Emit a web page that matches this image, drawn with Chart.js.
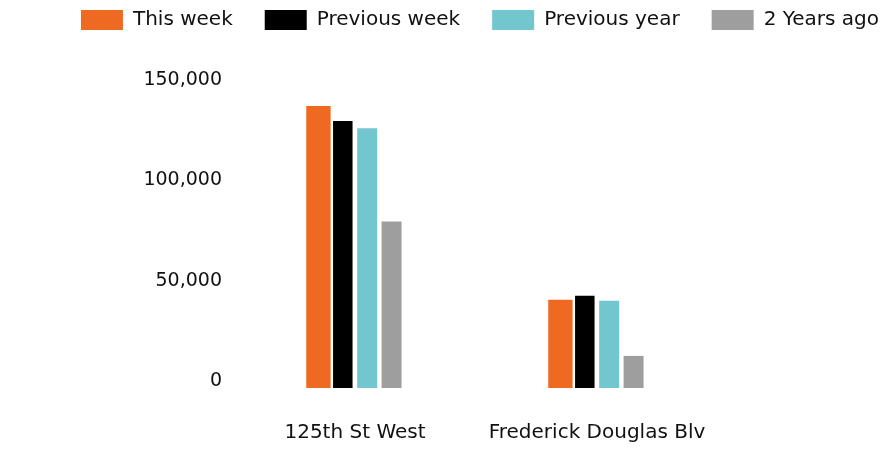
<!DOCTYPE html>
<html>
<head>
<meta charset="utf-8">
<script src="https://cdn.jsdelivr.net/npm/chart.js@4/dist/chart.umd.min.js"></script>
<style>
  html, body { margin: 0; padding: 0; background: #fff; }
  #wrap { width: 884px; height: 450px; }
</style>
</head>
<body>
<div id="wrap"><canvas id="stationChart"></canvas></div>
<script>
// Stations
const stations = ['125th St West', 'Frederick Douglas Blv'];

// Ridership per period
const thisWeek = [140500, 44000];
const previousWeek = [133000, 46000];
const previousYear = [129500, 43500];
const twoYearsAgo = [83000, 16000];

// Y axis ticks
const yTicks = [0, 50000, 100000, 150000];

const FONT = 'DejaVu Sans';

const ctx = document.getElementById('stationChart');
new Chart(ctx, {
    type: 'bar',
    data: {
        labels: stations,
        datasets: [
            { label: 'This week', data: thisWeek, backgroundColor: '#ee6a22', barPercentage: 1.0 },
            { label: 'Previous week', data: previousWeek, backgroundColor: '#000000', barPercentage: 0.8 },
            { label: 'Previous year', data: previousYear, backgroundColor: '#72c6ce', barPercentage: 0.82 },
            { label: '2 Years ago', data: twoYearsAgo, backgroundColor: '#9e9e9e', barPercentage: 0.82 }
        ]
    },
    options: {
        responsive: true,
        maintainAspectRatio: false,
        animation: false,
        categoryPercentage: 0.403,
        // legend needs more room than the canvas gives, so right side goes past the edge
        layout: {
            padding: { left: 36, right: -40, top: -22, bottom: -28 }
        },
        plugins: {
            legend: {
                position: 'top',
                labels: {
                    boxWidth: 42,
                    boxHeight: 20,
                    padding: 32,
                    color: '#111',
                    font: { family: FONT, size: 20 }
                }
            },
            // spacer between legend and plot
            title: {
                display: true,
                text: '',
                weight: 100,
                padding: 0,
                font: { size: 47, lineHeight: 1 }
            },
            tooltip: { enabled: false }
        },
        scales: {
            x: {
                grid: { display: false, drawTicks: false },
                border: { display: false },
                ticks: {
                    padding: 33,
                    color: '#111',
                    font: { family: FONT, size: 20 }
                }
            },
            y: {
                min: 0,
                max: 150000,
                grid: { display: false, drawTicks: false },
                border: { display: false },
                afterBuildTicks: function(scale) {
                    scale.ticks = yTicks.map(v => ({ value: v }));
                },
                afterFit: function(scale) {
                    scale.width = 198;
                },
                ticks: {
                    padding: 12,
                    labelOffset: -7,
                    color: '#111',
                    font: { family: FONT, size: 19 },
                    callback: function(value) {
                        return value.toLocaleString('en-US');
                    }
                }
            },
            // empty axis to keep the plot narrower on the right
            y2: {
                type: 'linear',
                position: 'right',
                grid: { display: false, drawTicks: false },
                border: { display: false },
                ticks: { display: false },
                afterFit: function(scale) {
                    scale.width = 206;
                }
            }
        }
    }
});
</script>
</body>
</html>
